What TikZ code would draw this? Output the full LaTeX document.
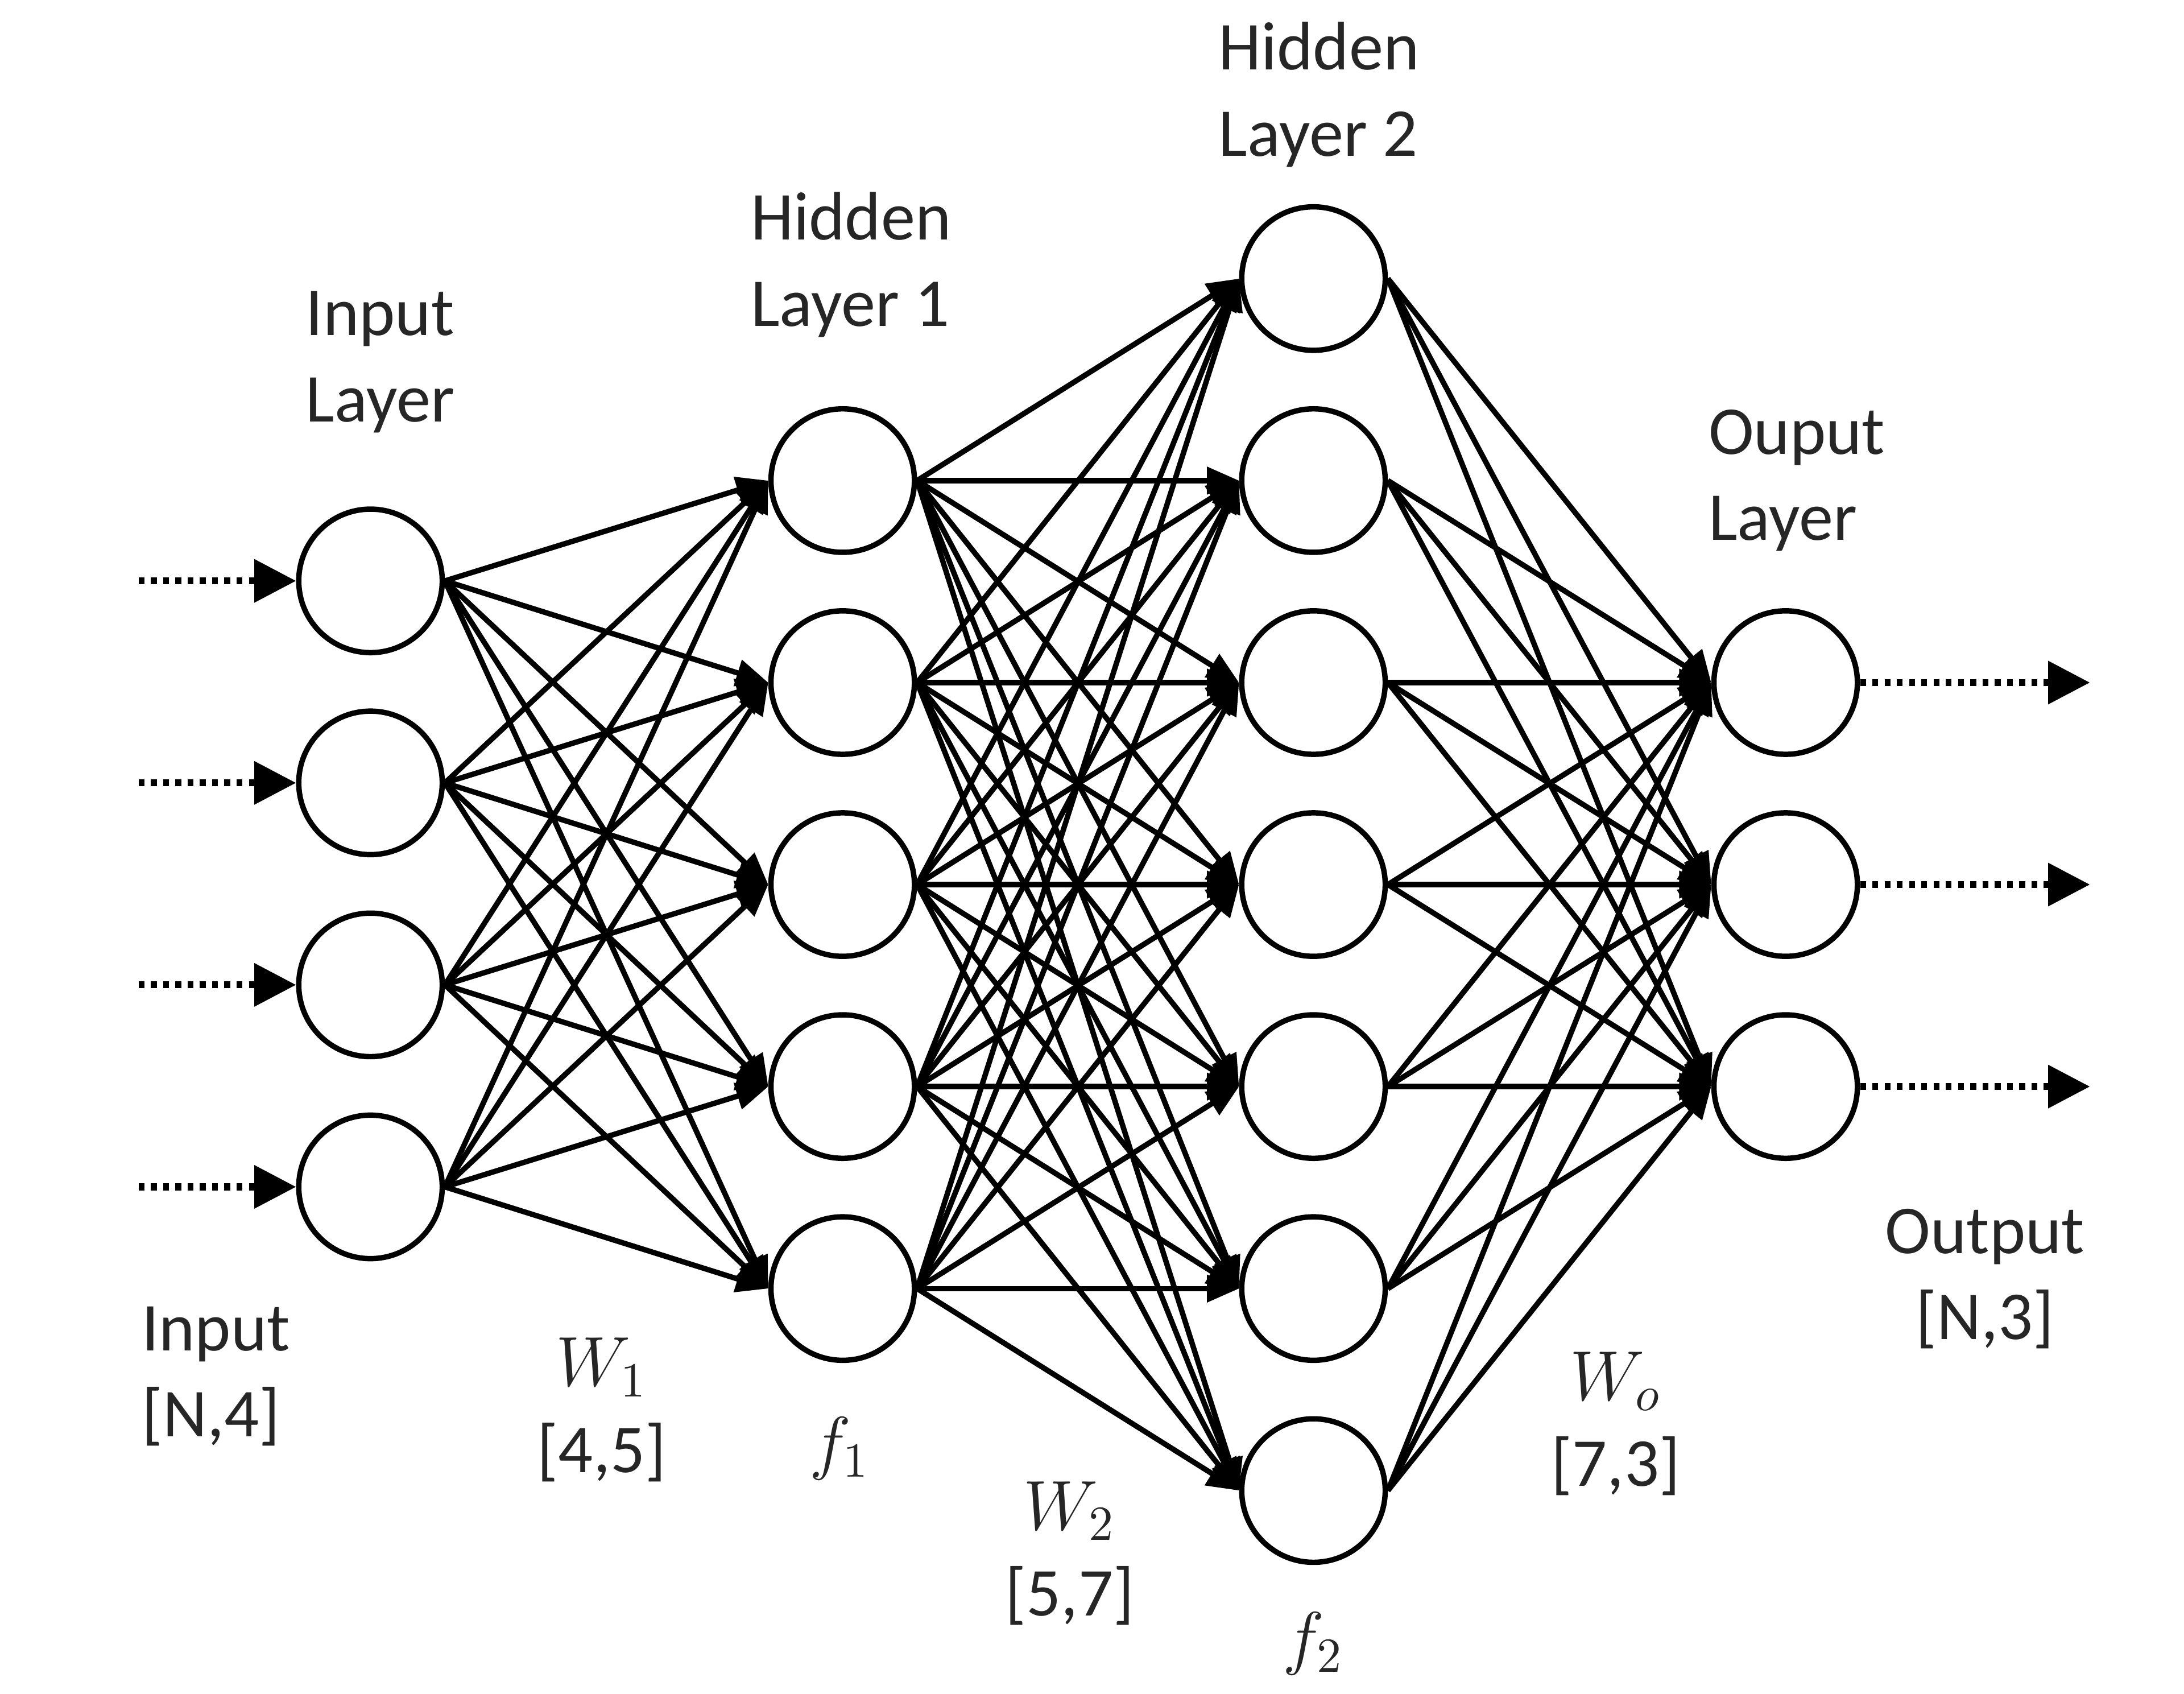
\documentclass[tikz,border=0pt]{standalone}
\usepackage{fontspec}
\setmainfont{Carlito}
\usetikzlibrary{positioning,arrows.meta,calc}

\begin{document}
\begin{tikzpicture}[
  neuron/.style={circle,draw,line width=1.1pt,fill=white,minimum size=1.03cm,inner sep=0pt},
  lbl/.style={font=\fontsize{14}{17.6}\selectfont,text=black!85,align=left},
  wlbl/.style={font=\fontsize{14}{17.6}\selectfont,text=black!85,align=center},
  wt/.style={-{Triangle[length=2.3mm,width=1.9mm]},line width=1.1pt},
  io/.style={-{Triangle[length=3mm,width=3mm]},line width=1.4pt,dash pattern=on 1.2pt off 1.3pt}
]
\useasboundingbox (0,0) rectangle (15.68,12.16);
% layers
\foreach \i in {1,...,4} \node[neuron] (in-\i) at (2.66,{9.44-1.45*\i}) {};
\foreach \i in {1,...,5} \node[neuron] (ha-\i) at (6.05,{10.16-1.45*\i}) {};
\foreach \i in {1,...,7} \node[neuron] (hb-\i) at (9.43,{11.61-1.45*\i}) {};
\foreach \i in {1,...,3} \node[neuron] (out-\i) at (12.82,{8.71-1.45*\i}) {};
% weights
\foreach \i in {1,...,4} \foreach \j in {1,...,5} \draw[wt] (in-\i.east) -- (ha-\j.west);
\foreach \i in {1,...,5} \foreach \j in {1,...,7} \draw[wt] (ha-\i.east) -- (hb-\j.west);
\foreach \i in {1,...,7} \foreach \j in {1,...,3} \draw[wt] (hb-\i.east) -- (out-\j.west);
% inputs and outputs
\foreach \i in {1,...,4} {
  \coordinate (src-\i) at ($(in-\i.west)+(-1.13,0)$);
  \draw[io] (src-\i) -- (in-\i.west);
}
\foreach \i in {1,...,3} {
  \coordinate (dst-\i) at ($(out-\i.east)+(1.65,0)$);
  \draw[io] (out-\i.east) -- (dst-\i);
}
% labels
\node[lbl] (inlab) at (2.73,9.56) {Input\\Layer};
\node[lbl] (halab) at (6.11,10.26) {Hidden\\Layer 1};
\node[lbl] (hblab) at (9.47,11.48) {Hidden\\Layer 2};
\node[lbl] (outlab) at (12.90,8.71) {Ouput\\Layer};
\node[lbl] (inshape) at (1.55,2.28) {Input\\{}[N,4]};
\node[wlbl] (w1) at (4.32,2.04) {$W_1$\\{}[4,5]};
\node[wlbl] (f1) at (6.03,1.76) {$f_1$};
\node[wlbl] (w2) at (7.68,1.01) {$W_2$\\{}[5,7]};
\node[wlbl] (f2) at (9.43,0.36) {$f_2$};
\node[wlbl] (wo) at (11.60,1.94) {$W_o$\\{}[7,3]};
\node[wlbl] (outshape) at (14.25,2.98) {Output\\{}[N,3]};
\end{tikzpicture}
\end{document}
